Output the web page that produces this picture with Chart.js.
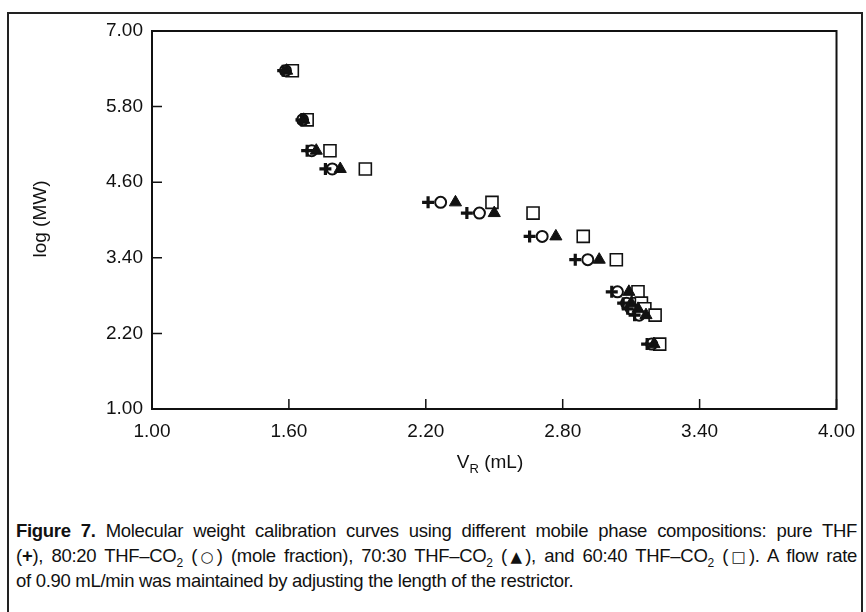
<!DOCTYPE html>
<html><head><meta charset="utf-8">
<script src="https://cdn.jsdelivr.net/npm/chart.js@4.4.1/dist/chart.umd.min.js"></script>
<style>
html,body{margin:0;padding:0;background:#fff;width:866px;height:612px;overflow:hidden;font-family:"Liberation Sans",Arial,sans-serif;color:#111;}
#frame{position:absolute;left:7px;top:12px;width:856px;height:620px;border:2px solid #222;box-sizing:border-box;}
#wrap{position:absolute;left:0;top:0;width:866px;height:480px;}
#xt{position:absolute;left:440px;top:451px;width:100px;text-align:center;font-size:19px;}
#xt sub{font-size:13px;}
#yt{position:absolute;left:-10px;top:208px;width:100px;text-align:center;font-size:19px;transform:rotate(-90deg);}
#cap{position:absolute;left:16px;top:518px;width:841px;font-size:18.5px;line-height:25px;letter-spacing:-0.3px;}
#cap div{text-align:justify;text-align-last:justify;white-space:nowrap;}
#cap div.last{text-align-last:left;}
#cap sub{font-size:12px;line-height:0;}
#cap .sym{font-size:15px;font-family:"DejaVu Sans",sans-serif;line-height:0;}
</style></head><body>
<div id="frame"></div>
<div id="wrap"><canvas id="c" width="866" height="480"></canvas></div>
<div id="xt">V<sub>R</sub> (mL)</div>
<div id="yt">log (MW)</div>
<div id="cap">
<div><b>Figure 7.</b> Molecular weight calibration curves using different mobile phase compositions: pure THF</div>
<div>(<b>+</b>), 80:20 THF–CO<sub>2</sub> (<span class="sym">○</span>) (mole fraction), 70:30 THF–CO<sub>2</sub> (<span class="sym">▲</span>), and 60:40 THF–CO<sub>2</sub> (<span class="sym">□</span>). A flow rate</div>
<div class="last">of 0.90 mL/min was maintained by adjusting the length of the restrictor.</div>
</div>
<script>
// log(MW) of the calibration standards
const logMW = [6.37, 5.59, 5.10, 4.81, 4.28, 4.11, 3.74, 3.37, 2.86, 2.68, 2.59, 2.49, 2.03];
// retention volumes V_R (mL) for each mobile phase
const vrTHF   = [1.575, 1.655, 1.68, 1.76, 2.21, 2.38, 2.655, 2.855, 3.015, 3.065, 3.085, 3.115, 3.17];
const vr8020  = [1.585, 1.66, 1.70, 1.79, 2.265, 2.435, 2.71, 2.91, 3.04, 3.08, 3.10, 3.135, 3.19];
const vr7030  = [1.59, 1.665, 1.72, 1.825, 2.33, 2.50, 2.77, 2.96, 3.09, 3.10, 3.13, 3.165, 3.20];
const vr6040  = [1.615, 1.68, 1.78, 1.935, 2.49, 2.67, 2.89, 3.035, 3.13, 3.145, 3.16, 3.205, 3.225];
const seriesNames = ['pure THF', '80:20 THF–CO2', '70:30 THF–CO2', '60:40 THF–CO2'];
const xTicks = [1.00, 1.60, 2.20, 2.80, 3.40, 4.00];
const yTicks = [1.00, 2.20, 3.40, 4.60, 5.80, 7.00];

const pts = (xs) => xs.map((x, i) => ({x: x, y: logMW[i]}));
const FONT = "'Liberation Sans', Arial, sans-serif";

const framePlugin = {
  id: 'frame',
  afterDatasetsDraw(chart) {
    const {ctx, chartArea: a, scales} = chart;
    ctx.save();
    ctx.strokeStyle = '#111';
    ctx.lineWidth = 2;
    ctx.strokeRect(a.left, a.top, a.right - a.left, a.bottom - a.top);
    ctx.lineWidth = 1.5;
    ctx.beginPath();
    xTicks.forEach(v => { const p = scales.x.getPixelForValue(v); ctx.moveTo(p, a.bottom); ctx.lineTo(p, a.bottom - 10); });
    yTicks.forEach(v => { const p = scales.y.getPixelForValue(v); ctx.moveTo(a.left, p); ctx.lineTo(a.left + 10, p); });
    ctx.stroke();
    ctx.restore();
  }
};

new Chart(document.getElementById('c'), {
  type: 'scatter',
  data: {
    datasets: [
      {label: seriesNames[0], data: pts(vrTHF), pointStyle: 'cross', pointRadius: 6, borderColor: '#111', borderWidth: 3.2, order: 0},
      {label: seriesNames[1], data: pts(vr8020), pointStyle: 'circle', pointRadius: 5.5, borderColor: '#111', backgroundColor: '#fff', borderWidth: 2, order: 2},
      {label: seriesNames[2], data: pts(vr7030), pointStyle: 'triangle', pointRadius: 7, borderColor: '#111', backgroundColor: '#111', borderWidth: 1, order: 1},
      {label: seriesNames[3], data: pts(vr6040), pointStyle: 'rect', pointRadius: 8.5, borderColor: '#111', backgroundColor: '#fff', borderWidth: 1.6, order: 3}
    ]
  },
  options: {
    responsive: false,
    animation: false,
    events: [],
    layout: {padding: {left: 0, top: 31, right: 29, bottom: 0}},
    plugins: {legend: {display: false}, tooltip: {enabled: false}},
    scales: {
      x: {
        type: 'linear', min: 1, max: 4,
        afterFit(s) { s.height = 71; },
        afterBuildTicks(s) { s.ticks = xTicks.map(v => ({value: v})); },
        grid: {display: false, drawTicks: false},
        border: {display: false},
        ticks: {color: '#111', font: {family: FONT, size: 19}, padding: 11, maxRotation: 0, callback: v => v.toFixed(2)}
      },
      y: {
        type: 'linear', min: 1, max: 7,
        afterFit(s) { s.width = 152; },
        afterBuildTicks(s) { s.ticks = yTicks.map(v => ({value: v})); },
        grid: {display: false, drawTicks: false},
        border: {display: false},
        ticks: {color: '#111', font: {family: FONT, size: 19}, padding: 9, callback: v => v.toFixed(2)}
      }
    }
  },
  plugins: [framePlugin]
});
</script>
</body></html>
